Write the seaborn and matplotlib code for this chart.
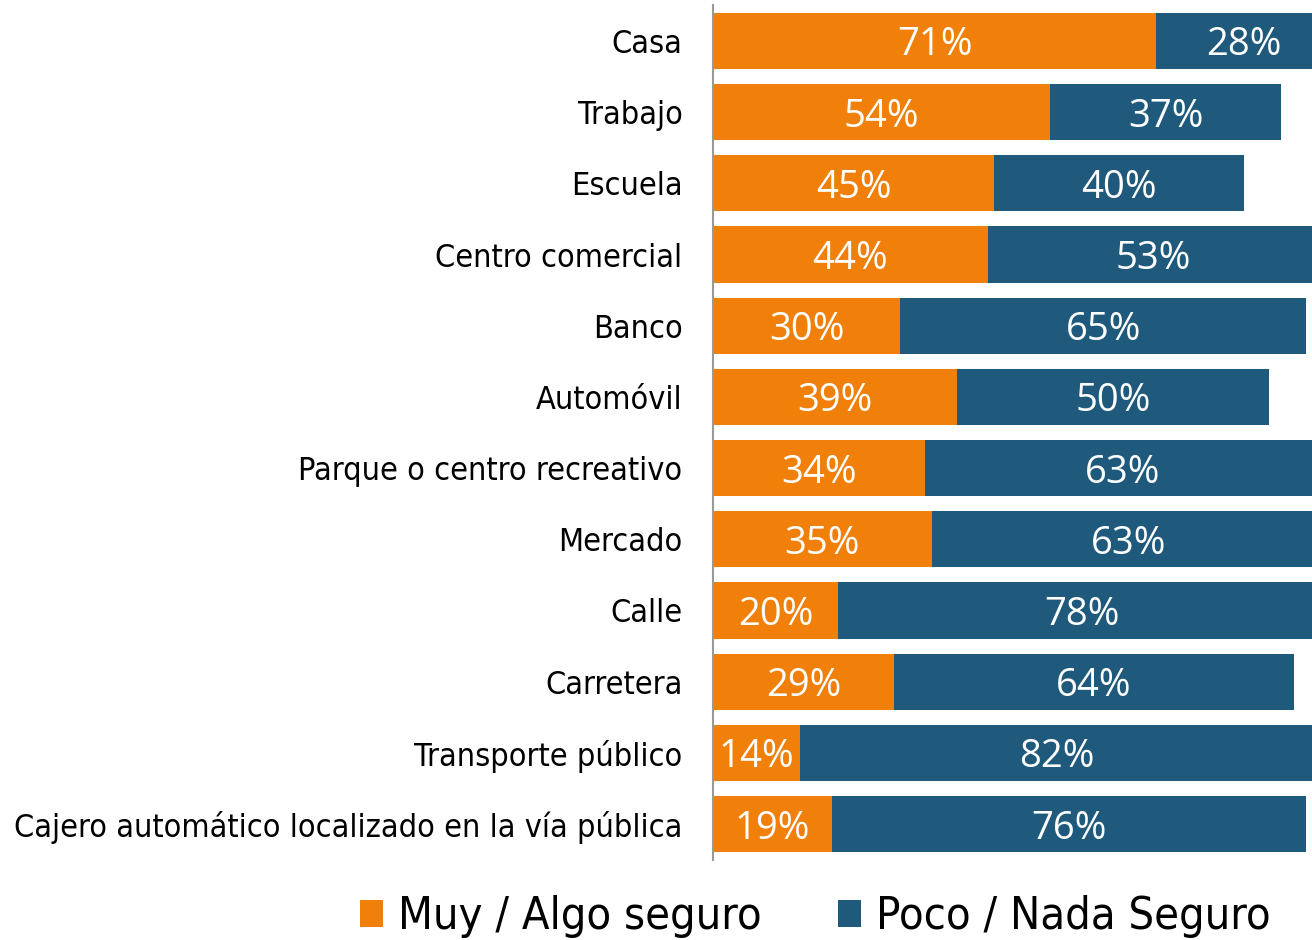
import matplotlib
matplotlib.use("Agg")
import matplotlib.pyplot as plt
import seaborn as sns
import pandas as pd
from matplotlib.patches import Patch
from matplotlib.font_manager import FontProperties

categories = ["Casa", "Trabajo", "Escuela", "Centro comercial", "Banco", "Automóvil",
              "Parque o centro recreativo", "Mercado", "Calle", "Carretera",
              "Transporte público", "Cajero automático localizado en la vía pública"]
seguro = [71, 54, 45, 44, 30, 39, 34, 35, 20, 29, 14, 19]
inseguro = [28, 37, 40, 53, 65, 50, 63, 63, 78, 64, 82, 76]
series_names = ["Muy / Algo seguro", "Poco / Nada Seguro"]

ORANGE = "#F0800A"
BLUE = "#1F5A7C"

sns.set_theme(style="white")

cat_font = FontProperties(family="DejaVu Sans", stretch="condensed", size=23.2)
leg_font = FontProperties(family="DejaVu Sans", stretch="condensed", size=32.4)
val_font = FontProperties(family=["Open Sans", "DejaVu Sans"], weight="normal", size=27.5)

df = pd.DataFrame({"cat": categories, "seguro": seguro, "inseguro": inseguro})
df["total"] = df["seguro"] + df["inseguro"]

fig = plt.figure(figsize=(13.12, 9.4), dpi=100)
ax = fig.add_axes([713/1312, 1-859.6/940, 1-713/1312, (859.6-5.4)/940])

sns.barplot(data=df, x="total", y="cat", color=BLUE, orient="h", width=0.79,
            saturation=1, ax=ax, linewidth=0)
sns.barplot(data=df, x="seguro", y="cat", color=ORANGE, orient="h", width=0.79,
            saturation=1, ax=ax, linewidth=0)

for i, (a, b) in enumerate(zip(seguro, inseguro)):
    ax.text(a/2, i, f"{a}%", ha="center", va="center_baseline", color="white",
            fontproperties=val_font)
    ax.text(a + b/2, i, f"{b}%", ha="center", va="center_baseline", color="white",
            fontproperties=val_font)

ax.set_xlim(0, 95.9)
ax.set_ylim(11.5, -0.5)
ax.set_xlabel("")
ax.set_ylabel("")
ax.set_xticks([])
for s in ["top", "right", "bottom"]:
    ax.spines[s].set_visible(False)
ax.spines["left"].set_color("#999999")
ax.spines["left"].set_linewidth(1.5)
ax.tick_params(axis="y", length=0, pad=22)
for lab in ax.get_yticklabels():
    lab.set_fontproperties(cat_font)
    lab.set_color("black")

handles = [Patch(facecolor=ORANGE, edgecolor="none"), Patch(facecolor=BLUE, edgecolor="none")]
fig.legend(handles, series_names, loc="center", bbox_to_anchor=(0.6215, 0.0245), ncol=2,
           frameon=False, prop=leg_font, handlelength=0.52, labelcolor="black",
           handleheight=0.52, handletextpad=0.34, columnspacing=1.68)

fig.savefig("out.png", dpi=100)
